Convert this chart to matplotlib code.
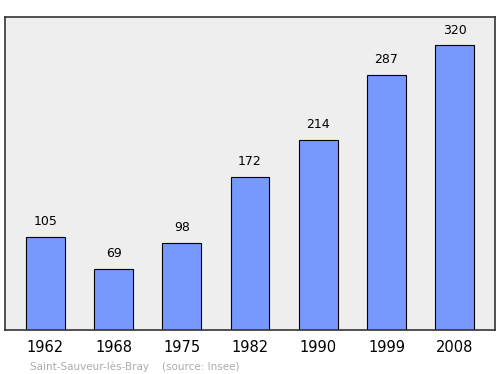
import matplotlib
matplotlib.use("Agg")
import matplotlib.pyplot as plt

years = ["1962", "1968", "1975", "1982", "1990", "1999", "2008"]
population = [105, 69, 98, 172, 214, 287, 320]

fig = plt.figure(figsize=(5, 3.74), dpi=100)
ax = fig.add_axes([0.01, 0.1176, 0.98, 0.837])
ax.set_facecolor("#eeeeee")
x = range(len(years))
ax.bar(x, population, width=0.57, color="#7799ff", edgecolor="#000000", linewidth=0.8)
for xi, v in zip(x, population):
    ax.text(xi, v + 10, str(v), ha="center", va="bottom", fontsize=9, color="#000000")
ax.set_xlim(-0.59, 6.59)
ax.set_ylim(0, 352)
ax.set_yticks([])
ax.set_xticks(list(x))
ax.set_xticklabels(years, fontsize=10.5)
ax.tick_params(axis="x", length=0, pad=7)
for s in ax.spines.values():
    s.set_color("#333333")
    s.set_linewidth(1.2)
fig.text(0.06, 0.01, "Saint-Sauveur-lès-Bray    (source: Insee)", fontsize=7.5, color="#aaaaaa")
fig.savefig("out.png", dpi=100)
